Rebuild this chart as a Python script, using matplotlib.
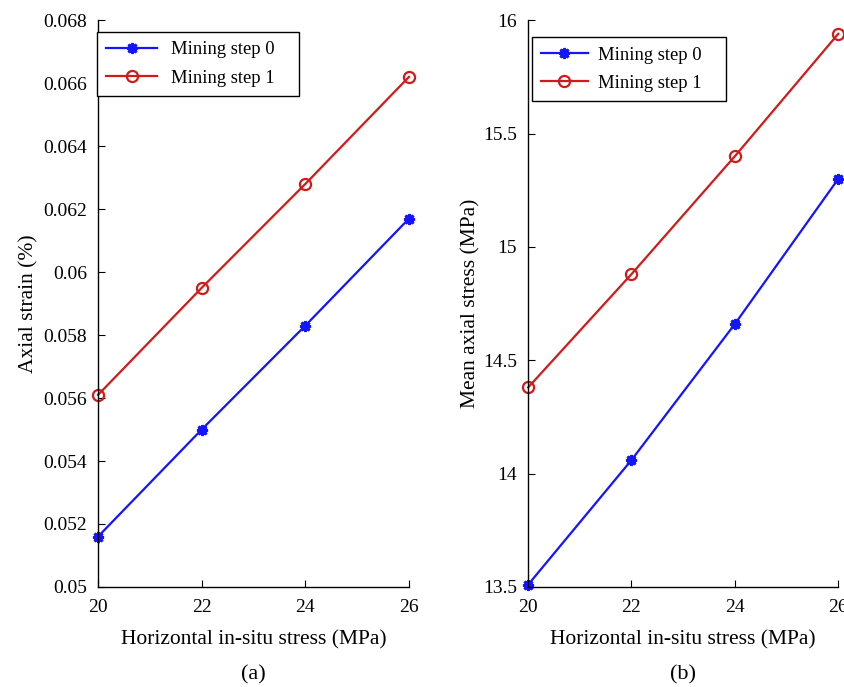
import matplotlib
matplotlib.use("Agg")
import matplotlib.pyplot as plt
from matplotlib.patches import Rectangle

x = [20, 22, 24, 26]
strain_step0 = [0.0516, 0.0550, 0.0583, 0.0617]
strain_step1 = [0.0561, 0.0595, 0.0628, 0.0662]
stress_step0 = [13.51, 14.06, 14.66, 15.30]
stress_step1 = [14.38, 14.88, 15.40, 15.94]
labels = ["Mining step 0", "Mining step 1"]
xticks = [20, 22, 24, 26]
yticks_a = [0.05, 0.052, 0.054, 0.056, 0.058, 0.06, 0.062, 0.064, 0.066, 0.068]
yticks_a_lbl = ["0.05", "0.052", "0.054", "0.056", "0.058", "0.06", "0.062", "0.064", "0.066", "0.068"]
yticks_b = [13.5, 14, 14.5, 15, 15.5, 16]
yticks_b_lbl = ["13.5", "14", "14.5", "15", "15.5", "16"]

plt.rcParams['font.family'] = ['Liberation Serif', 'DejaVu Serif']
plt.rcParams['font.size'] = 14

fig = plt.figure(figsize=(8.45, 6.87), dpi=100)
ax1 = fig.add_axes([0.116, 0.1456, 0.368, 0.825])
ax2 = fig.add_axes([0.625, 0.1456, 0.367, 0.825])

blue = (0.08, 0.08, 1.0)
red = (0.82, 0.1, 0.1)

legends = []

def style(ax, yt, ytl, ylim, ylabel, cap, leg_anchor, ylpad, hl, htp):
    ax.set_xlim(20, 26)
    ax.set_ylim(*ylim)
    ax.set_xticks(xticks)
    ax.set_yticks(yt)
    ax.set_yticklabels(ytl)
    for s in ['top', 'right']:
        ax.spines[s].set_visible(False)
    ax.tick_params(direction='in', length=5, labelsize=14)
    ax.tick_params(axis='x', pad=9)
    ax.tick_params(axis='y', pad=8)
    ax.set_xlabel("Horizontal in-situ stress (MPa)", fontsize=15.5, labelpad=10)
    ax.set_ylabel(ylabel, fontsize=15.5, labelpad=ylpad)
    ax.text(0.5, -0.155, cap, transform=ax.transAxes, ha='center', va='center', fontsize=16)
    leg = ax.legend(loc='upper left', bbox_to_anchor=leg_anchor, frameon=False,
                    fontsize=13.4, handlelength=hl, handletextpad=htp,
                    borderpad=0.5, labelspacing=0.6, borderaxespad=0)
    legends.append((ax, leg))
    for sp in ax.spines.values():
        sp.set_linewidth(1.0)

for ax, s0, s1 in [(ax1, strain_step0, strain_step1), (ax2, stress_step0, stress_step1)]:
    ax.plot(x, s0, color=blue, lw=1.6, marker=(8, 2, 0), ms=8, mew=2.0, label=labels[0], clip_on=False)
    ax.plot(x, s1, color=red, lw=1.6, marker='o', ms=8, mfc='none', mew=1.6, label=labels[1], clip_on=False)

style(ax1, yticks_a, yticks_a_lbl, (0.05, 0.068), "Axial strain (%)", "(a)", (-0.003, 0.979), 3, 2.7, 0.75)
style(ax2, yticks_b, yticks_b_lbl, (13.5, 16), "Mean axial stress (MPa)", "(b)", (0.012, 0.970), 2, 2.5, 0.55)

# MATLAB-style legend frame with extra room on the right
fig.canvas.draw()
renderer = fig.canvas.get_renderer()
for ax, leg in legends:
    bb = leg.get_window_extent(renderer)
    extra = 15
    (fx0, fy0) = fig.transFigure.inverted().transform((bb.x0, bb.y0))
    (fx1, fy1) = fig.transFigure.inverted().transform((bb.x1 + extra, bb.y1))
    rect = Rectangle((fx0, fy0), fx1 - fx0, fy1 - fy0, transform=fig.transFigure,
                     fill=True, facecolor='white', edgecolor='black', lw=1.0, zorder=4)
    fig.add_artist(rect)
    leg.set_zorder(5)
    leg.remove()
    fig.add_artist(leg)

fig.savefig("out.png", dpi=100)
